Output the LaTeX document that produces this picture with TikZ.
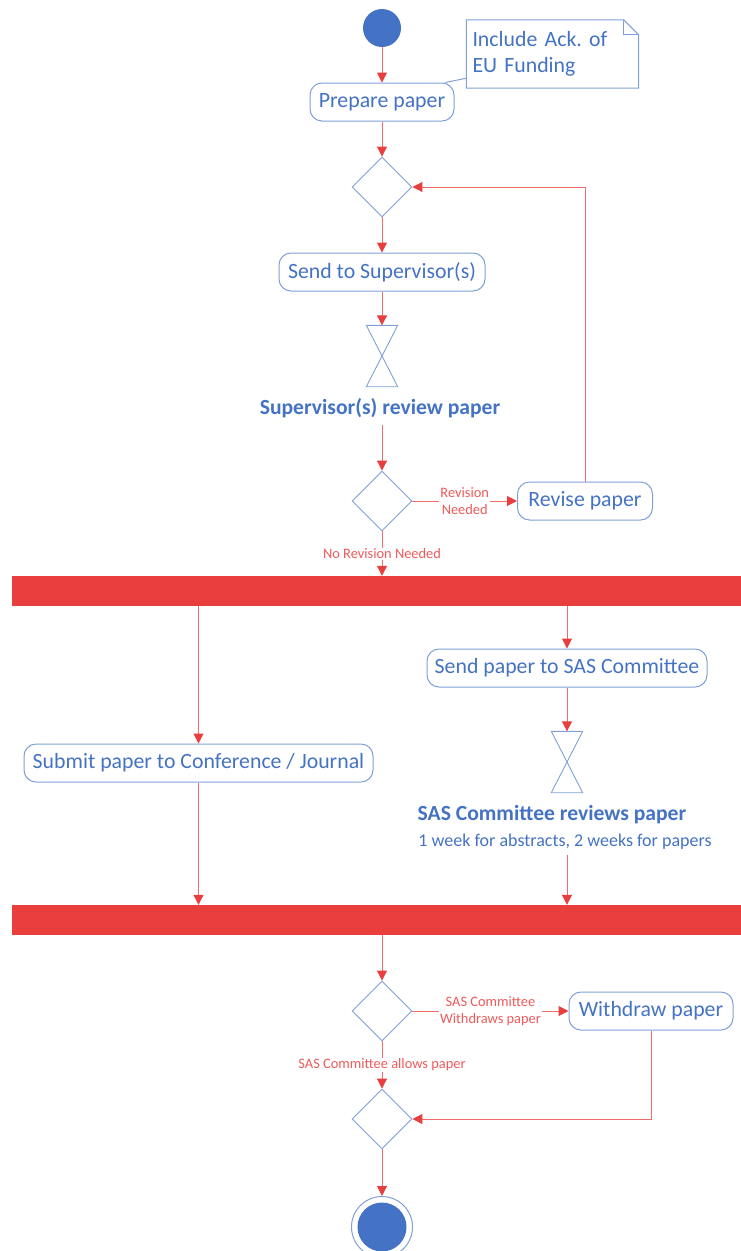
\documentclass[tikz,border=0pt]{standalone}
\usepackage{fontspec}
\setmainfont{Carlito}
\usetikzlibrary{shapes.geometric,arrows.meta,calc}
\definecolor{txtblue}{HTML}{4472C4}
\definecolor{boxblue}{HTML}{7F9FD9}
\definecolor{linered}{HTML}{F26B6B}
\definecolor{tipred}{HTML}{E83E3E}
\definecolor{barred}{HTML}{E83E3E}
\definecolor{lblred}{HTML}{F05A5A}
\frenchspacing
\begin{document}
\begin{tikzpicture}[x=1pt,y=-1pt,
  act/.style={draw=boxblue, line width=1pt, rounded corners=12pt, minimum height=38pt,
    inner sep=3pt, text=txtblue, font=\fontsize{21.8}{25}\selectfont},
  dec/.style={diamond, draw=boxblue, line width=0.9pt, minimum width=60pt, minimum height=60pt, inner sep=0pt},
  hg/.style={minimum width=31pt, minimum height=61pt, inner sep=0pt},
  flow/.style={draw=linered, line width=1pt, -{Triangle[length=10pt,width=10pt,color=tipred]}},
  lbl/.style={fill=white, text=lblred, align=center, inner sep=1pt, font=\fontsize{14.4}{16.5}\selectfont},
  boldlbl/.style={text=txtblue, font=\bfseries\fontsize{21.6}{25}\selectfont, inner sep=3pt},
  sublbl/.style={text=txtblue, font=\fontsize{18}{21}\selectfont, inner sep=3pt},
  barnode/.style={fill=barred, draw=none, minimum width=729pt, minimum height=30pt, inner sep=0pt},
  notenode/.style={text width=160pt, inner xsep=6pt, minimum height=68pt, align=left,
    text=txtblue, font=\fontsize{21.8}{26}\selectfont}
]
\useasboundingbox (0,0) rectangle (741,1251);

% start
\node[circle, fill=txtblue, minimum size=38pt, inner sep=0pt] (start) at (382,28) {};
\node[act, minimum width=144pt] (prep) at (382,102) {Prepare paper};
\draw[flow] (start) -- (prep);

% note
\node[notenode] (note) at (552.5,54) {Include Ack. of\\EU Funding};
\draw[boxblue, line width=1pt] (note.north west) -- ($(note.north east)+(-15,0)$) -- ($(note.north east)+(0,15)$) -- (note.south east) -- (note.south west) -- cycle;
\draw[boxblue, line width=0.8pt] ($(note.north east)+(-15,0)$) -- ($(note.north east)+(-15,15)$) -- ($(note.north east)+(0,15)$);
\draw[boxblue, line width=1pt] ([xshift=-9pt]prep.north east) -- ([yshift=10pt]note.south west);

% first decision loop
\node[dec] (d1) at (382,187) {};
\draw[flow] (prep) -- (d1);
\node[act, minimum width=206pt] (sup) at (382,272) {Send to Supervisor(s)};
\draw[flow] (d1) -- (sup);
\node[hg] (hg1) at (382,356) {};
\draw[boxblue, line width=0.9pt] (hg1.north west) -- (hg1.north east) -- (hg1.south west) -- (hg1.south east) -- cycle;
\draw[flow] (sup) -- (hg1);
\node[boldlbl] (rev1) at (380,408) {Supervisor(s) review paper};
\node[dec] (d2) at (382,501) {};
\draw[flow] ([yshift=-4pt]rev1.south -| d2.north) -- (d2);
\node[act, minimum width=135pt] (revise) at (585,501) {Revise paper};
\draw[flow] (d2) -- node[lbl] {Revision\\Needed} (revise);
\draw[flow] (revise.north) |- (d1.east);

% fork
\node[barnode] (bar1) at (376.5,591) {};
\draw[flow] (d2) -- node[lbl] {No Revision Needed} (bar1.north -| d2);
\node[act, minimum width=280pt] (sendsas) at (567,668) {Send paper to SAS Committee};
\draw[flow] (bar1.south -| sendsas) -- (sendsas);
\node[act, minimum width=349pt] (submit) at (198.5,763) {Submit paper to Conference / Journal};
\draw[flow] (bar1.south -| submit) -- (submit);
\node[hg] (hg2) at (567,762) {};
\draw[boxblue, line width=0.9pt] (hg2.north west) -- (hg2.north east) -- (hg2.south west) -- (hg2.south east) -- cycle;
\draw[flow] (sendsas) -- (hg2);
\node[boldlbl] (rev2) at (552,815) {SAS Committee reviews paper};
\node[sublbl] (rev2b) at (565,842) {1 week for abstracts, 2 weeks for papers};

% join
\node[barnode] (bar2) at (376.5,920) {};
\draw[flow] ([yshift=-2pt]rev2b.south -| hg2) -- (bar2.north -| hg2);
\draw[flow] (submit) -- (bar2.north -| submit);

% final decisions
\node[dec] (d3) at (382,1011) {};
\draw[flow] (bar2.south -| d3) -- (d3);
\node[act, minimum width=164pt] (wd) at (651,1011) {Withdraw paper};
\draw[flow] (d3) -- node[lbl] {SAS Committee\\Withdraws paper} (wd);
\node[dec] (d4) at (382,1119) {};
\draw[flow] (d3) -- node[lbl] {SAS Committee allows paper} (d4);
\draw[flow] (wd.south) |- (d4.east);

% end
\node[circle, draw=boxblue, line width=1pt, minimum size=61pt, inner sep=0pt] (endn) at (382,1227) {};
\fill[txtblue] (endn.center) circle (24.5);
\draw[flow] (d4) -- (endn);
\end{tikzpicture}
\end{document}
